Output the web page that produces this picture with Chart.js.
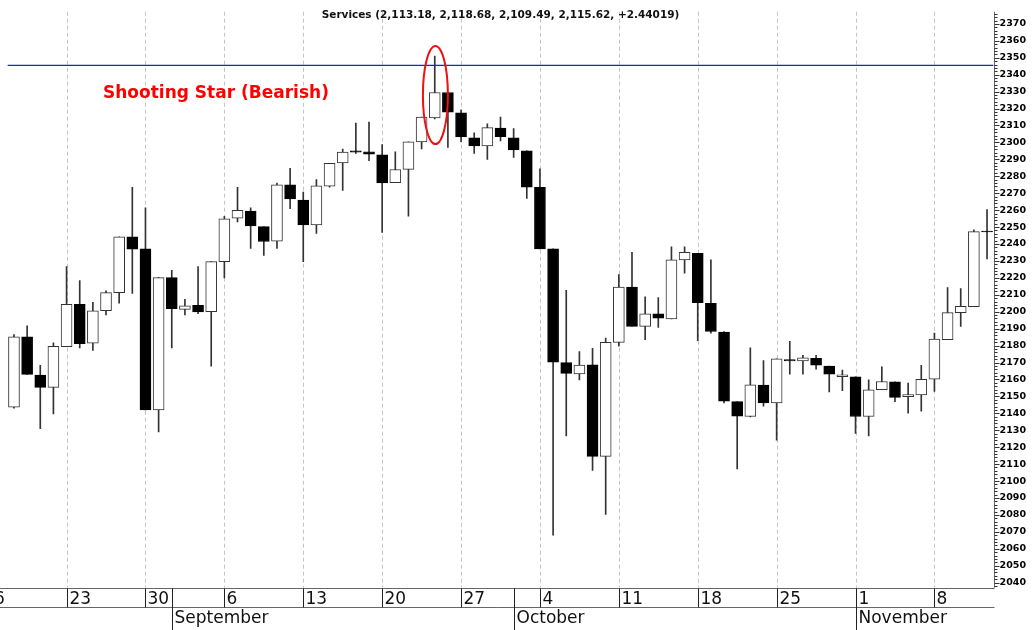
<!DOCTYPE html>
<html>
<head>
<meta charset="utf-8">
<script src="https://cdn.jsdelivr.net/npm/chart.js"></script>
<style>
  html, body { margin: 0; padding: 0; background: #fff; }
  #wrap { width: 1035px; height: 630px; }
</style>
</head>
<body>
<div id="wrap"><canvas id="servicesChart" width="1035" height="630"></canvas></div>
<script>
  /*** daily OHLC for the Services index, one entry per trading slot ***/
  const opens  = [2143.6,2185.1,2162.6,2155.3,2179.4,2204.4,2181.4,2200.6,2211.3,2244.3,
                  2237.1,2142.0,2220.1,2201.4,2203.8,2200.0,2229.6,2255.2,2259.4,2250.3,
                  2241.7,2275.0,2265.9,2251.3,2274.2,2287.9,2295.0,2294.5,2292.6,2276.2,
                  2284.1,2300.3,2314.5,2329.5,2317.4,2302.7,2298.0,2308.5,2302.7,2295.1,
                  2273.5,2237.1,2169.9,2163.2,2168.7,2114.6,2181.9,2214.6,2191.3,2198.7,
                  2195.8,2230.6,2234.5,2204.9,2188.0,2146.9,2138.1,2156.6,2146.2,2171.8,
                  2170.9,2172.4,2167.9,2161.7,2161.5,2138.1,2153.9,2158.6,2149.8,2150.9,
                  2160.1,2183.5,2199.5,2203.0,2247.7];
  const highs  = [2186.5,2191.7,2168.3,2181.6,2226.7,2218.4,2205.5,2212.3,2244.3,2273.5,
                  2261.4,2220.1,2224.4,2207.3,2226.7,2229.6,2256.3,2273.5,2261.4,2250.3,
                  2276.0,2284.7,2270.7,2278.0,2287.7,2296.1,2311.4,2312.0,2298.7,2294.5,
                  2300.3,2314.9,2351.0,2329.5,2319.2,2305.6,2311.0,2314.9,2308.1,2295.1,
                  2284.4,2237.1,2212.7,2176.5,2178.4,2184.5,2222.0,2235.1,2208.8,2208.4,
                  2238.4,2238.4,2234.5,2230.6,2188.3,2146.9,2178.6,2171.2,2172.2,2182.5,
                  2174.3,2174.3,2167.9,2165.6,2161.5,2159.7,2167.5,2158.6,2157.8,2168.3,
                  2187.4,2214.3,2213.7,2248.3,2260.4];
  const lows   = [2143.0,2163.0,2131.0,2139.7,2179.4,2178.6,2177.1,2198.1,2205.0,2210.8,
                  2142.0,2129.0,2178.6,2198.1,2198.9,2167.9,2220.0,2253.0,2237.4,2233.2,
                  2237.4,2260.8,2229.6,2246.2,2273.5,2271.7,2293.5,2289.2,2246.8,2276.2,
                  2256.5,2296.1,2313.9,2297.0,2300.3,2293.5,2290.0,2300.9,2291.2,2266.9,
                  2237.1,2068.0,2126.7,2159.7,2106.2,2080.3,2179.6,2191.3,2183.5,2190.7,
                  2195.8,2222.8,2182.9,2187.4,2146.1,2107.2,2137.8,2144.2,2124.1,2163.1,
                  2163.1,2166.0,2152.7,2153.3,2128.1,2126.7,2153.9,2146.9,2140.1,2141.3,
                  2152.9,2183.5,2191.3,2203.0,2231.2];
  const closes = [2185.1,2163.0,2155.3,2179.6,2204.4,2181.2,2200.6,2211.3,2244.3,2236.9,
                  2142.0,2220.1,2201.8,2203.5,2199.9,2229.6,2254.9,2259.9,2250.7,2241.5,
                  2275.0,2266.6,2251.3,2274.4,2287.7,2294.3,2294.2,2293.1,2276.0,2284.0,
                  2300.3,2314.9,2329.5,2317.8,2303.2,2298.0,2308.7,2303.4,2295.5,2273.6,
                  2237.1,2170.2,2163.6,2168.5,2114.6,2181.9,2214.6,2191.3,2198.7,2196.2,
                  2230.6,2235.1,2205.3,2188.3,2147.1,2138.3,2156.8,2146.2,2172.2,2170.9,
                  2172.8,2168.5,2163.1,2162.7,2138.1,2153.9,2158.8,2149.4,2151.0,2160.1,
                  2183.9,2199.5,2203.2,2247.3,2247.2];

  /*** date axis: week starts and month starts, given as trading slots ***/
  const weekLabels  = ['16','23','30','6','13','20','27','4','11','18','25','1','8'];
  const weekSlots   = [-2,4,10,16,22,28,34,40,46,52,58,64,70];
  const monthLabels = ['September','October','November'];
  const monthSlots  = [12,38,64];

  const resistance   = 2345.5;
  const chartTitle   = 'Services (2,113.18, 2,118.68, 2,109.49, 2,115.62, +2.44019)';
  const patternLabel = 'Shooting Star (Bearish)';
  const patternSlot  = 32;

  /*** datasets for candle bodies and wicks ***/
  const bodies = opens.map((o, i) => ({ x: i, y: [o, closes[i]] }));
  const wicks  = highs.map((h, i) => ({ x: i, y: [lows[i], h] }));
  const bodyFill = opens.map((o, i) => closes[i] > o ? '#ffffff' : '#000000');
  const bodyLine = opens.map((o, i) => closes[i] > o ? '#333333' : '#000000');

  /*** extra drawing: gridlines, pattern marker, titles, axis ticks and date rows ***/
  const decor = {
    id: 'decor',
    beforeDatasetsDraw(chart){
      const {ctx, chartArea, scales:{x}} = chart;
      ctx.save();
      ctx.strokeStyle = '#c4c4c4';
      ctx.lineWidth = 1;
      ctx.setLineDash([4,3]);
      weekSlots.forEach(s => {
        const px = Math.round(x.getPixelForValue(s)) + 0.5;
        if(px < chartArea.left) return;
        ctx.beginPath();
        ctx.moveTo(px, chartArea.top);
        ctx.lineTo(px, chartArea.bottom);
        ctx.stroke();
      });
      ctx.restore();
    },
    afterDraw(chart){
      const {ctx, chartArea, scales:{x, y}} = chart;
      ctx.save();

      // ellipse round the shooting star
      ctx.strokeStyle = '#ee1111';
      ctx.lineWidth = 2;
      ctx.beginPath();
      const ex = x.getPixelForValue(patternSlot + 0.05);
      const ey = y.getPixelForValue(2328);
      const rx = x.getPixelForValue(patternSlot + 0.95) - x.getPixelForValue(patternSlot);
      const ry = y.getPixelForValue(2299) - ey;
      ctx.ellipse(ex, ey, rx, ry, 0, 0, Math.PI * 2);
      ctx.stroke();

      ctx.fillStyle = '#ff0000';
      ctx.font = 'bold 17px "DejaVu Sans"';
      ctx.textBaseline = 'middle';
      ctx.textAlign = 'left';
      ctx.fillText(patternLabel, x.getPixelForValue(6.77), y.getPixelForValue(2328.7));

      // title
      ctx.fillStyle = '#111';
      ctx.font = 'bold 10.5px "DejaVu Sans"';
      ctx.textAlign = 'center';
      ctx.fillText(chartTitle, (chartArea.left + chartArea.right) / 2, 15);

      // right axis line and ticks
      const ax = Math.round(chartArea.right) + 0.5;
      ctx.strokeStyle = '#666';
      ctx.lineWidth = 1;
      ctx.beginPath();
      ctx.moveTo(ax, chartArea.top);
      ctx.lineTo(ax, chartArea.bottom);
      ctx.stroke();
      ctx.strokeStyle = '#333';
      for(let v = 2038; v <= 2376; v += 2){
        const py = Math.round(y.getPixelForValue(v)) + 0.5;
        const len = v % 10 === 0 ? 5 : 3;
        ctx.beginPath();
        ctx.moveTo(ax, py);
        ctx.lineTo(ax + len, py);
        ctx.stroke();
      }

      // date rows under the plot
      const top = Math.round(chartArea.bottom) + 0.5;
      const mid = top + 19;
      ctx.strokeStyle = '#666';
      ctx.beginPath();
      ctx.moveTo(0, top); ctx.lineTo(ax, top);
      ctx.moveTo(0, mid); ctx.lineTo(ax, mid);
      ctx.stroke();

      ctx.strokeStyle = '#222';
      ctx.fillStyle = '#111';
      ctx.font = '17px "DejaVu Sans"';
      ctx.textAlign = 'left';
      ctx.textBaseline = 'alphabetic';
      weekSlots.forEach((s, i) => {
        const px = Math.round(x.getPixelForValue(s)) + 0.5;
        if(px > 0){
          ctx.beginPath();
          ctx.moveTo(px, top);
          ctx.lineTo(px, mid);
          ctx.stroke();
          ctx.fillText(weekLabels[i], px + 2, top + 15);
        }else{
          ctx.fillText(weekLabels[i], x.getPixelForValue(s - 0.5) + 2, top + 15);
        }
      });
      monthSlots.forEach((s, i) => {
        const px = Math.round(x.getPixelForValue(s)) + 0.5;
        ctx.beginPath();
        ctx.moveTo(px, top);
        ctx.lineTo(px, 630);
        ctx.stroke();
        ctx.fillText(monthLabels[i], px + 2, mid + 15);
      });

      ctx.restore();
    }
  };

  const ctx = document.getElementById('servicesChart');
  new Chart(ctx, {
    type: 'bar',
    data: {
      datasets: [{
        type: 'line',
        data: [{x: -0.5, y: resistance}, {x: 74.5, y: resistance}],
        borderColor: '#2020e0',
        borderWidth: 1.4,
        pointRadius: 0,
        order: 0
      },{
        data: bodies,
        backgroundColor: bodyFill,
        borderColor: bodyLine,
        borderWidth: 1,
        borderSkipped: false,
        barThickness: 11,
        grouped: false,
        order: 1
      },{
        data: wicks,
        backgroundColor: '#333',
        barThickness: 1,
        grouped: false,
        order: 2
      }]
    },
    options: {
      responsive: false,
      animation: false,
      layout: { padding: { top: 5, left: 7.4, bottom: 42.3, right: 0 } },
      plugins: {
        legend: { display: false },
        tooltip: { enabled: false }
      },
      scales: {
        x: { type: 'linear', min: -0.5, max: 74.5, offset: false, display: false },
        y: {
          position: 'right',
          min: 2037.0,
          max: 2377.2,
          grid: { display: false, drawTicks: false },
          border: { display: false },
          ticks: {
            stepSize: 10,
            includeBounds: false,
            autoSkip: false,
            padding: 6,
            color: '#000',
            font: { family: 'DejaVu Sans', weight: 'bold', size: 9.5 },
            callback: v => String(v)
          },
          afterFit(scale){ scale.width = 41.4; }
        }
      }
    },
    plugins: [decor]
  });
</script>
</body>
</html>
